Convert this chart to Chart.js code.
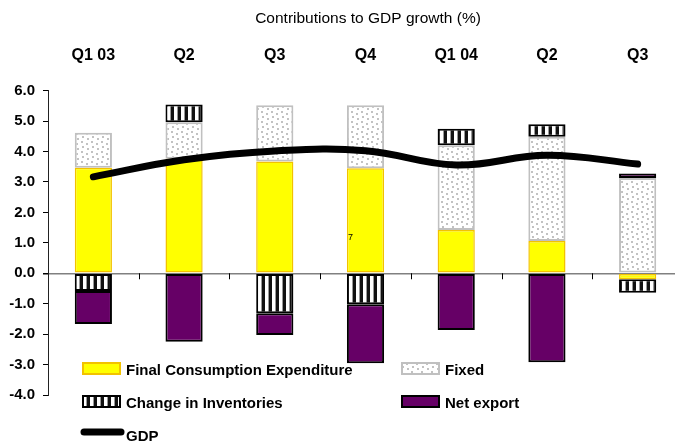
<!DOCTYPE html>
<html>
<head>
<meta charset="utf-8">
<script src="https://cdn.jsdelivr.net/npm/chart.js@4"></script>
<style>
  html, body { margin: 0; padding: 0; background: #fff; overflow: hidden; }
  #wrap { width: 690px; height: 442px; }
</style>
</head>
<body>
<div id="wrap"><canvas id="chart" width="690" height="442"></canvas></div>
<script>
// Contributions to GDP growth (%)
const quarters = ["Q1 03", "Q2", "Q3", "Q4", "Q1 04", "Q2", "Q3"];
const consumption = [3.47, 3.76, 3.67, 3.45, 1.42, 1.06, -0.2];
const fixedInv = [1.15, 1.2, 1.85, 2.07, 2.79, 3.43, 3.13];
const inventories = [-0.58, 0.59, -1.31, -1.02, 0.54, 0.41, -0.44];
const netExport = [-1.09, -2.25, -0.72, -1.94, -1.86, -2.92, 0.15];
const gdp = [3.17, 3.73, 4.02, 4.03, 3.56, 3.88, 3.59];

const seriesNames = ["Final Consumption Expenditure", "Fixed", "Change in Inventories", "Net export", "GDP"];
const yMin = -4, yMax = 6, yStep = 1;

const FONT = "'Liberation Sans', Arial, sans-serif";
const canvas = document.getElementById("chart");
const mainCtx = canvas.getContext("2d");

// fill patterns
function dotPattern() {
  const c = document.createElement("canvas");
  c.width = 10; c.height = 10;
  const g = c.getContext("2d");
  g.fillStyle = "#fff";
  g.fillRect(0, 0, 10, 10);
  g.fillStyle = "#c2c2c2";
  [[1, 1], [6, 3], [2, 6], [7, 8]].forEach(p => g.fillRect(p[0], p[1], 2, 2));
  return mainCtx.createPattern(c, "repeat");
}
function stripePattern() {
  const c = document.createElement("canvas");
  c.width = 7; c.height = 4;
  const g = c.getContext("2d");
  g.fillStyle = "#fff";
  g.fillRect(0, 0, 7, 4);
  g.fillStyle = "#111";
  g.fillRect(3, 0, 3, 4);
  g.fillStyle = "#999";
  g.fillRect(2, 0, 1, 4);
  return mainCtx.createPattern(c, "repeat");
}

const barCommon = {
  type: "bar",
  stack: "parts",
  order: 1,
  borderSkipped: false,
  categoryPercentage: 1,
  barPercentage: 0.41,
};

// title, zero-line ticks, legend and the stray label
const decor = {
  id: "decor",
  beforeDatasetsDraw(chart) {
    const ctx = chart.ctx;
    const x = chart.scales.x, y = chart.scales.y;
    const y0 = y.getPixelForValue(0);
    const half = (x.getPixelForValue(1) - x.getPixelForValue(0)) / 2;
    ctx.save();
    ctx.strokeStyle = "#000";
    ctx.lineWidth = 1;
    for (let i = 0; i < quarters.length; i++) {
      const bx = Math.round(x.getPixelForValue(i) + half) + 0.5;
      ctx.beginPath();
      ctx.moveTo(bx, y0);
      ctx.lineTo(bx, y0 + 6);
      ctx.stroke();
    }
    ctx.restore();
  },
  afterDraw(chart) {
    const ctx = chart.ctx;
    const ds = chart.data.datasets;
    ctx.save();
    ctx.fillStyle = "#000";
    ctx.textAlign = "center";
    ctx.textBaseline = "middle";
    ctx.font = "15.5px " + FONT;
    ctx.fillText("Contributions to GDP growth (%)", 368, 19);

    ctx.textAlign = "left";
    ctx.textBaseline = "alphabetic";
    ctx.font = "9px " + FONT;
    ctx.fillText("7", 348, 240);

    ctx.font = "bold 15px " + FONT;
    const slots = [[82, 362, 375], [401, 362, 375], [82, 395, 408], [401, 395, 408]];
    slots.forEach((s, i) => {
      const d = ds[i];
      ctx.fillStyle = d.backgroundColor;
      ctx.fillRect(s[0], s[1], 39, 13);
      ctx.strokeStyle = d.borderColor;
      ctx.lineWidth = 2;
      ctx.strokeRect(s[0] + 1, s[1] + 1, 37, 11);
      ctx.fillStyle = "#000";
      ctx.fillText(d.label, s[0] + 44, s[2]);
    });
    ctx.strokeStyle = ds[4].borderColor;
    ctx.lineWidth = 7;
    ctx.lineCap = "round";
    ctx.beginPath();
    ctx.moveTo(84, 432);
    ctx.lineTo(121, 432);
    ctx.stroke();
    ctx.fillStyle = "#000";
    ctx.fillText(ds[4].label, 126, 441);
    ctx.restore();
  }
};

new Chart(mainCtx, {
  data: {
    labels: quarters,
    datasets: [
      { ...barCommon, label: seriesNames[0], data: consumption,
        backgroundColor: "#ffff00", borderColor: "#f2c200", borderWidth: 1.5 },
      { ...barCommon, label: seriesNames[1], data: fixedInv,
        backgroundColor: dotPattern(), borderColor: "#c0c0c0", borderWidth: 2 },
      { ...barCommon, label: seriesNames[2], data: inventories,
        backgroundColor: stripePattern(), borderColor: "#000", borderWidth: 2 },
      { ...barCommon, label: seriesNames[3], data: netExport,
        backgroundColor: "#660066", borderColor: "#000", borderWidth: 2 },
      { type: "line", label: seriesNames[4], data: gdp, stack: "gdp", order: 0,
        borderColor: "#000", borderWidth: 7, tension: 0.4,
        borderCapStyle: "round", borderJoinStyle: "round",
        pointRadius: 0, fill: false },
    ],
  },
  options: {
    responsive: false,
    animation: false,
    devicePixelRatio: 1,
    layout: { padding: { left: 0, right: 7, top: 0, bottom: 47 } },
    plugins: {
      legend: { display: false },
      title: { display: false },
      tooltip: { enabled: false },
    },
    scales: {
      x: {
        position: "top",
        stacked: true,
        grid: { display: false, drawTicks: false },
        border: { display: false },
        ticks: {
          color: "#000",
          padding: 26,
          font: { family: FONT, size: 16, weight: "bold" },
          maxRotation: 0,
          autoSkip: false,
        },
        afterFit(scale) { scale.height = 90.7; },
      },
      y: {
        stacked: true,
        min: yMin,
        max: yMax,
        grid: {
          drawOnChartArea: true,
          color: c => (c.tick && c.tick.value === 0 ? "#808080" : "rgba(0,0,0,0)"),
          lineWidth: c => (c.tick && c.tick.value === 0 ? 1.5 : 1),
          tickColor: "#000",
          tickLength: 5,
        },
        border: { display: true, color: "#222", width: 1 },
        ticks: {
          stepSize: yStep,
          color: "#000",
          padding: 8,
          font: { family: FONT, size: 15, weight: "bold" },
          callback: v => v.toFixed(1),
        },
        afterFit(scale) { scale.width = 48; },
      },
    },
  },
  plugins: [decor],
});
</script>
</body>
</html>
